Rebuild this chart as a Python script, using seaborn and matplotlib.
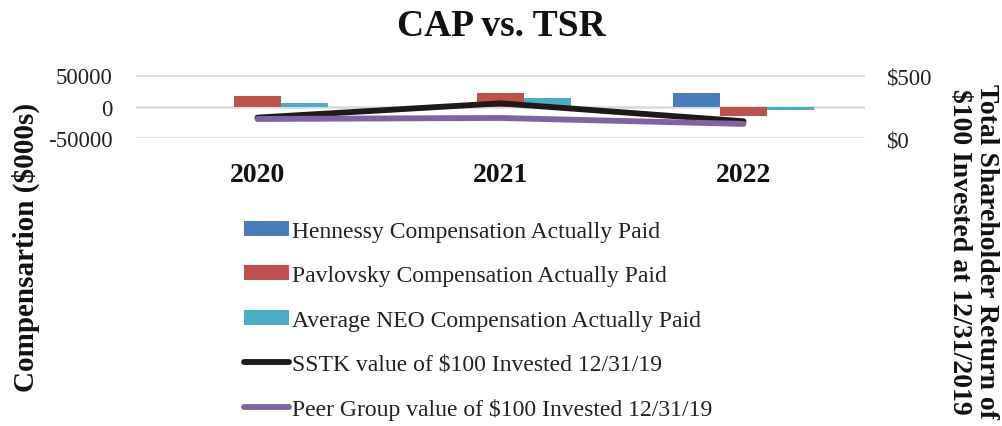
import matplotlib
matplotlib.use("Agg")
import matplotlib.pyplot as plt
from matplotlib.patches import Patch
from matplotlib.lines import Line2D
import seaborn as sns
import pandas as pd

years = ["2020", "2021", "2022"]
hennessy_cap = [0, 0, 22100]
pavlovsky_cap = [16400, 21600, -15200]
neo_cap = [5800, 13300, -5700]
sstk_tsr = [163, 276, 134]
peer_tsr = [152, 160, 113]

bar_names = ["Hennessy Compensation Actually Paid",
             "Pavlovsky Compensation Actually Paid",
             "Average NEO Compensation Actually Paid"]
line_names = ["SSTK value of $100 Invested 12/31/19",
              "Peer Group value of $100 Invested 12/31/19"]
bar_colors = ["#4a7ebb", "#c0504d", "#4bacc6"]
line_colors = ["#1e1a1a", "#8064a2"]

sns.set_theme(style="white")
plt.rcParams["font.family"] = ["Liberation Serif", "DejaVu Serif"]

bars = pd.DataFrame({
    "year": years * 3,
    "series": [bar_names[0]] * 3 + [bar_names[1]] * 3 + [bar_names[2]] * 3,
    "value": hennessy_cap + pavlovsky_cap + neo_cap,
})
lines = pd.DataFrame({
    "year": years * 2,
    "series": [line_names[0]] * 3 + [line_names[1]] * 3,
    "value": sstk_tsr + peer_tsr,
})

fig = plt.figure(figsize=(10.02, 4.27), dpi=100)
ax = fig.add_axes([0.1357, 0.674, 0.7276, 0.148])

sns.barplot(data=bars, x="year", y="value", hue="series", order=years,
            hue_order=bar_names, palette=bar_colors, width=0.58,
            saturation=1, ax=ax, legend=False, zorder=2, linewidth=0)
ax.set_ylim(-50000, 50000)
ax.set_yticks([-50000, 0, 50000])
ax.set_yticklabels(["-50000", "0", "50000"], fontsize=16.5, color="#222222")
ax.grid(axis="y", color="#d9d9d9", linewidth=1.8, zorder=0)
ax.set_axisbelow(True)
ax.tick_params(axis="y", length=0, pad=17)
ax.tick_params(axis="x", length=0, pad=17)
for lab in ax.get_xticklabels():
    lab.set_fontsize(20)
    lab.set_fontweight("bold")
    lab.set_color("#111111")
ax.set_xlabel("")
ax.set_ylabel("")
for s in ax.spines.values():
    s.set_visible(False)

ax2 = ax.twinx()
for name, col in zip(line_names, line_colors):
    sub = lines[lines["series"] == name]
    sns.lineplot(data=sub, x="year", y="value", color=col, linewidth=4.2,
                 ax=ax2, legend=False, solid_capstyle="round", sort=False)
ax2.set_ylim(0, 500)
ax2.set_yticks([0, 500])
ax2.set_yticklabels(["$0", "$500"], fontsize=16.5, color="#222222")
ax2.tick_params(axis="y", length=0, pad=15)
ax2.set_xlabel("")
ax2.set_ylabel("")
ax2.grid(False)
for s in ax2.spines.values():
    s.set_visible(False)
ax.set_xlim(-0.5, 2.5)

fig.text(0.5, 0.937, "CAP vs. TSR", ha="center", va="center",
         fontsize=27, fontweight="bold", color="#111111")
fig.text(0.026, 0.42, "Compensartion ($000s)", rotation=90, ha="center",
         va="center", fontsize=21, fontweight="bold", color="#111111")
fig.text(0.971, 0.41, "Total Shareholder Return of\n$100 Invested at 12/31/2019",
         rotation=-90, ha="center", va="center", fontsize=20,
         fontweight="bold", color="#111111", linespacing=1.1)

handles = [Patch(facecolor=c, edgecolor="none") for c in bar_colors] + \
          [Line2D([0], [0], color=c, linewidth=4.2, solid_capstyle="round")
           for c in line_colors]
fig.legend(handles, bar_names + line_names, loc="upper left",
           bbox_to_anchor=(0.2435, 0.480), frameon=False, fontsize=17,
           handlelength=1.9, handleheight=0.6, handletextpad=0.15,
           labelspacing=0.985, borderpad=0, borderaxespad=0,
           labelcolor="#222222")

fig.savefig("out.png", dpi=100)
